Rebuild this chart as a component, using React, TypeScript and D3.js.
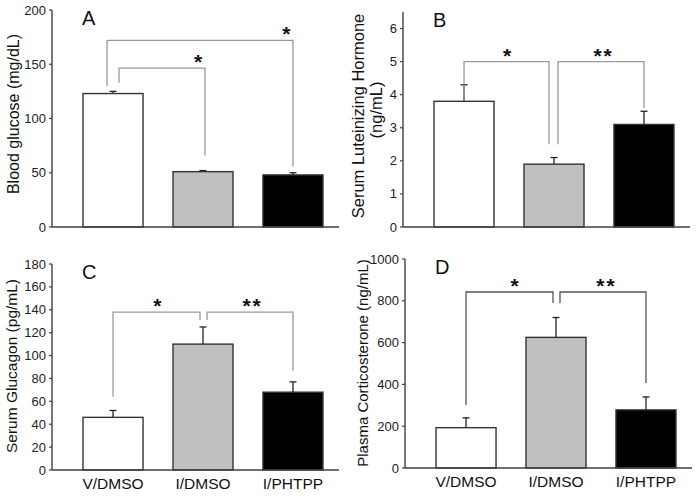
import * as d3 from 'd3';

const groups = ['V/DMSO', 'I/DMSO', 'I/PHTPP'];
const fills = ['#ffffff', '#c0c0c0', '#000000'];

// means and upper error tips for each panel
const glucose = [123, 51, 48];
const glucoseErr = [125, 52, 50];
const lh = [3.8, 1.9, 3.1];
const lhErr = [4.3, 2.1, 3.5];
const glucagon = [46, 110, 68];
const glucagonErr = [52, 125, 77];
const cort = [193, 625, 278];
const cortErr = [240, 720, 340];

const ticksA = [0, 50, 100, 150, 200];
const ticksB = [0, 1, 2, 3, 4, 5, 6];
const ticksC = [0, 20, 40, 60, 80, 100, 120, 140, 160, 180];
const ticksD = [0, 200, 400, 600, 800, 1000];

// significance brackets: [fromBar, toBar, level, fromLegEnd, toLegEnd, label]
const bracketsA = [
  [0, 2, 172, 130, 56, '*'],
  [0, 1, 146.5, 133, 66, '*'],
];
const bracketsB = [
  [0, 1, 5.0, 3.83, 2.5, '*'],
  [1, 2, 5.0, 2.5, 3.6, '**'],
];
const bracketsC = [
  [0, 1, 138, 64, 131, '*'],
  [1, 2, 138, 131, 87, '**'],
];
const bracketsD = [
  [0, 1, 842, 301, 790, '*'],
  [1, 2, 842, 790, 407, '**'],
];

type Panel = {
  letter: string;
  values: number[];
  errs: number[];
  ticks: number[];
  max: number;
  brackets: any[];
  ax: number; y0: number; yTop: number;
  offsets: number[][]; // leg x offsets from bar center for [from, to]
  labelAt: number[];
  bracketColor: string;
  ylabel: string[];
  ylx: number[]; yly: number[]; ylSize: number;
  showX: boolean;
};

const panels: Panel[] = [
  {
    letter: 'A', values: glucose, errs: glucoseErr, ticks: ticksA, max: 200,
    brackets: bracketsA, ax: 52, y0: 227, yTop: 10,
    offsets: [[-6, 0], [6, 2]], labelAt: [0.97, 0.93], bracketColor: '#9a9a9a',
    ylabel: ['Blood glucose (mg/dL)'], ylx: [13], yly: [114], ylSize: 16, showX: false,
  },
  {
    letter: 'B', values: lh, errs: lhErr, ticks: ticksB, max: 6.5,
    brackets: bracketsB, ax: 403, y0: 227, yTop: 12,
    offsets: [[0, -5], [4, 0]], labelAt: [0.52, 0.53], bracketColor: '#9a9a9a',
    ylabel: ['Serum Luteinizing Hormone', '(ng/mL)'], ylx: [358, 376], yly: [116, 110], ylSize: 16.5, showX: false,
  },
  {
    letter: 'C', values: glucagon, errs: glucagonErr, ticks: ticksC, max: 180,
    brackets: bracketsC, ax: 52, y0: 470, yTop: 264,
    offsets: [[0, -3], [4, 0]], labelAt: [0.52, 0.53], bracketColor: '#9a9a9a',
    ylabel: ['Serum Glucagon (pg/mL)'], ylx: [12], yly: [366], ylSize: 15.5, showX: true,
  },
  {
    letter: 'D', values: cort, errs: cortErr, ticks: ticksD, max: 1000,
    brackets: bracketsD, ax: 405, y0: 468, yTop: 259,
    offsets: [[0, -3], [4, 0]], labelAt: [0.57, 0.54], bracketColor: '#555555',
    ylabel: ['Plasma Corticosterone (ng/mL)'], ylx: [363], yly: [363], ylSize: 15, showX: true,
  },
];

const font = 'Arial, "Liberation Sans", sans-serif';

function PanelView({ p }: { p: Panel }) {
  const x = d3.scaleBand().domain(groups).range([p.ax + 16, p.ax + 286])
    .paddingInner(0.333).paddingOuter(0.167);
  const y = d3.scaleLinear().domain([0, p.max]).range([p.y0, p.yTop]);
  const cx = (i: number) => (x(groups[i]) as number) + x.bandwidth() / 2;
  const axisEnd = p.ax + 287;

  return (
    <g fontFamily={font}>
      {p.values.map((v, i) => (
        <g key={i}>
          <line x1={cx(i)} x2={cx(i)} y1={y(v)} y2={y(p.errs[i])} stroke="#222" strokeWidth={1.3} />
          <line x1={cx(i) - 3.5} x2={cx(i) + 3.5} y1={y(p.errs[i])} y2={y(p.errs[i])} stroke="#222" strokeWidth={1.3} />
          <rect x={x(groups[i])} y={y(v)} width={x.bandwidth()} height={p.y0 - y(v)}
            fill={fills[i]} stroke="#333" strokeWidth={1.4} />
        </g>
      ))}
      <line x1={p.ax} x2={p.ax} y1={p.y0} y2={y(p.max)} stroke="#404040" strokeWidth={1.4} />
      <line x1={p.ax} x2={axisEnd} y1={p.y0} y2={p.y0} stroke="#404040" strokeWidth={1.4} />
      {p.ticks.map(t => (
        <g key={t}>
          <line x1={p.ax - 3} x2={p.ax} y1={y(t)} y2={y(t)} stroke="#404040" strokeWidth={1.2} />
          <text x={p.ax - 6} y={y(t)} dy="0.35em" textAnchor="end" fontSize={13} fill="#222">{t}</text>
        </g>
      ))}
      {p.brackets.map((b, k) => {
        const x1 = cx(b[0]) + p.offsets[k][0];
        const x2 = cx(b[1]) + p.offsets[k][1];
        const yl = y(b[2]);
        return (
          <g key={k}>
            <path d={`M${x1},${y(b[3])}V${yl}H${x2}V${y(b[4])}`} fill="none"
              stroke={p.bracketColor} strokeWidth={1.3} />
            <text x={x1 + (x2 - x1) * p.labelAt[k]} y={yl + 1} textAnchor="middle"
              fontSize={21} fontWeight="bold" letterSpacing={2} fill="#111">{b[5]}</text>
          </g>
        );
      })}
      <text x={p.ax + 30} y={p.yTop + 15} fontSize={20} fill="#111">{p.letter}</text>
      {p.ylabel.map((s, k) => (
        <text key={k} transform={`translate(${p.ylx[k]},${p.yly[k]}) rotate(-90)`} dy="0.35em"
          textAnchor="middle" fontSize={p.ylSize} fill="#111">{s}</text>
      ))}
      {p.showX && groups.map((g, i) => (
        <text key={g} x={cx(i)} y={p.y0 + 19} textAnchor="middle" fontSize={15.5} fill="#111">{g}</text>
      ))}
    </g>
  );
}

export default function App() {
  return (
    <svg width={700} height={497} style={{ position: 'absolute', left: 0, top: 0, background: '#fff' }}>
      <rect width={700} height={497} fill="#fff" />
      {panels.map(p => <PanelView key={p.letter} p={p} />)}
    </svg>
  );
}
